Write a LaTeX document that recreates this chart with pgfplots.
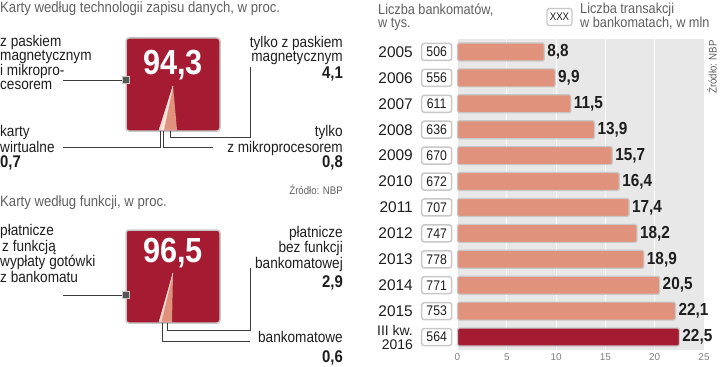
\documentclass[border=0pt]{standalone}
\usepackage{pgfplots}
\pgfplotsset{compat=1.18}
\usepackage{fontspec}
\setmainfont{Liberation Sans}[FakeStretch=0.88]
\newfontfamily\wide{Liberation Sans}
\definecolor{redc}{RGB}{165,28,50}
\definecolor{salmon}{RGB}{224,146,124}
\definecolor{pale}{RGB}{248,212,194}
\definecolor{paler}{RGB}{252,236,226}
\definecolor{panel}{RGB}{232,232,232}
\definecolor{txt}{RGB}{30,30,30}
\definecolor{ttl}{RGB}{95,95,95}
\definecolor{bord}{RGB}{200,200,200}
\definecolor{lin}{RGB}{60,60,60}
\definecolor{mk}{RGB}{85,85,85}
\newcommand{\fs}[1]{\fontsize{#1}{#1}\selectfont}
\tikzset{
  lab/.style={font=\fontsize{15.5}{14.3}\selectfont, text=txt, inner sep=0},
  num/.style={font=\bfseries\fs{17}, text=txt, inner sep=0},
  tit/.style={font=\fs{15}, text=ttl, inner sep=0},
  yr/.style={anchor=east, xshift=-44.5bp, font=\wide\fs{15.5}, text=txt, inner sep=0},
  bx/.style={draw=bord, line width=1.5bp, rounded corners=2.5bp, fill=white, minimum width=30bp, minimum height=17bp, inner sep=0, xshift=-20.8bp, font=\fs{14}, text=txt}}
\begin{document}
\begin{tikzpicture}
\path[use as bounding box] (0,0) rectangle (720bp,367bp);
\begin{axis}[at={(0,0)}, anchor=south west, width=720bp, height=367bp, scale only axis,
  xmin=0, xmax=720, ymin=0, ymax=367, y dir=reverse, hide axis, clip=false]
% square 1
\addplot[fill=redc, draw=bord, line width=1.5bp, rounded corners=3bp] coordinates {(126,38)(220,38)(220,131)(126,131)} -- cycle;
\addplot[fill=pale, draw=white, line width=0.3bp] coordinates {(173,86)(159,130)(161.2,130)};
\addplot[fill=paler, draw=white, line width=0.3bp] coordinates {(173,86)(161.2,130)(163.8,130)};
\addplot[fill=salmon, draw=white, line width=0.3bp] coordinates {(173,86)(163.8,130)(177,130)};
% square 2
\addplot[fill=redc, draw=bord, line width=1.5bp, rounded corners=3bp] coordinates {(126,230)(220,230)(220,323)(126,323)} -- cycle;
\addplot[fill=pale, draw=white, line width=0.3bp] coordinates {(173,273)(159,322)(161.2,322)};
\addplot[fill=salmon, draw=white, line width=0.3bp] coordinates {(173,273)(161.2,322)(172,322)};
% leader lines
\addplot[lin, line width=0.8bp] coordinates {(160,131)(160,147)(63,147)};
\addplot[lin, line width=0.8bp] coordinates {(163,131)(163,147)(213,147)};
\addplot[lin, line width=0.8bp] coordinates {(170,131)(170,137)(250,137)(250,67)};
\addplot[lin, line width=0.8bp] coordinates {(63,80)(124,80)};
\addplot[lin, line width=0.8bp] coordinates {(162,323)(162,341)(250,341)};
\addplot[lin, line width=0.8bp] coordinates {(167,323)(167,330)(250,330)(250,268)};
\addplot[lin, line width=0.8bp] coordinates {(63,295)(124,295)};
\addplot[only marks, mark=square*, mark size=3.5bp, mark options={fill=mk, draw=bord, line width=0.8bp}] coordinates {(126,80)(126,295)};
% texts left
\node[tit, anchor=base west] at (axis cs:0,13) {Karty według technologii zapisu danych, w proc.};
\node[lab, anchor=base west, align=left] at (axis cs:0,90) {z paskiem\\magnetycznym\\i mikropro-\\cesorem};
\node[anchor=base, font=\bfseries\fs{35}, text=white, inner sep=0] at (axis cs:173,75) {94,3};
\node[lab, anchor=base west, align=left] at (axis cs:0,152) {karty\\wirtualne};
\node[num, anchor=base west] at (axis cs:0,167) {0,7};
\node[lab, anchor=base east, align=right] at (axis cs:343,61.5) {tylko z paskiem\\magnetycznym};
\node[num, anchor=base east] at (axis cs:343,79) {4,1};
\node[lab, anchor=base east, align=right] at (axis cs:343,152) {tylko\\z mikroprocesorem};
\node[num, anchor=base east] at (axis cs:343,167) {0,8};
\node[font=\fs{11}, text=ttl, inner sep=0, anchor=base east] at (axis cs:343,194) {Źródło: NBP};
\node[tit, anchor=base west] at (axis cs:0,206) {Karty według funkcji, w proc.};
\node[anchor=base, font=\bfseries\fs{35}, text=white, inner sep=0] at (axis cs:173,262) {96,5};
\node[lab, anchor=base west, align=left] at (axis cs:0,282) {płatnicze\\\hspace*{2bp}z funkcją\\wypłaty gotówki\\z bankomatu};
\node[lab, anchor=base east, align=right] at (axis cs:343,268) {płatnicze\\bez funkcji\\bankomatowej};
\node[num, anchor=base east] at (axis cs:343,287) {2,9};
\node[lab, anchor=base east] at (axis cs:343,342) {bankomatowe};
\node[num, anchor=base east] at (axis cs:343,362) {0,6};
% right header
\node[font=\fontsize{14.5}{13.5}\selectfont, text=ttl, inner sep=0, anchor=base west, align=left] at (axis cs:378,28) {Liczba bankomatów,\\w tys.};
\node[draw=bord, line width=1.3bp, rounded corners=2.5bp, minimum width=25bp, minimum height=17bp, inner sep=0, font=\fs{11}, text=txt] at (axis cs:559.5,17) {XXX};
\node[font=\fontsize{14.5}{13.5}\selectfont, text=ttl, inner sep=0, anchor=base west, align=left] at (axis cs:580,28) {Liczba transakcji\\w bankomatach, w mln};
\node[font=\fs{11}, text=ttl, inner sep=0, rotate=90] at (axis cs:712,67) {Źródło: NBP};
\end{axis}

\begin{axis}[at={(457.5bp,328bp)}, anchor=north west, width=246.5bp, height=311bp, scale only axis,
  xbar, bar shift=0pt, bar width=18bp,
  xmin=0, xmax=25, ymin=-0.5, ymax=11.5, y dir=reverse,
  axis background/.style={fill=panel}, axis line style={draw=none},
  xmajorgrids, grid style={white, line width=1bp},
  xtick={0,5,...,25}, ytick=\empty, major tick length=0,
  xticklabel style={font=\wide\fs{10}, text=gray},
  /pgf/number format/assume math mode=true,
  nodes near coords,
  nodes near coords style={font=\bfseries\fs{17.5}, text=txt, anchor=west, inner sep=2.5bp,
    /pgf/number format/.cd, use comma, fixed, fixed zerofill, precision=1},
  clip=false]
\addplot[fill=salmon, draw=bord, line width=1.2bp, rounded corners=1.5bp] coordinates {(8.8,0)(9.9,1)(11.5,2)(13.9,3)(15.7,4)(16.4,5)(17.4,6)(18.2,7)(18.9,8)(20.5,9)(22.1,10)};
\addplot[fill=redc, draw=bord, line width=1.2bp, rounded corners=1.5bp] coordinates {(22.5,11)};
\node[yr] at (axis cs:0,0) {2005};
\node[yr] at (axis cs:0,1) {2006};
\node[yr] at (axis cs:0,2) {2007};
\node[yr] at (axis cs:0,3) {2008};
\node[yr] at (axis cs:0,4) {2009};
\node[yr] at (axis cs:0,5) {2010};
\node[yr] at (axis cs:0,6) {2011};
\node[yr] at (axis cs:0,7) {2012};
\node[yr] at (axis cs:0,8) {2013};
\node[yr] at (axis cs:0,9) {2014};
\node[yr] at (axis cs:0,10) {2015};
\node[yr, align=right, font=\wide\fontsize{14}{14}\selectfont] at (axis cs:0,11) {III kw.\\2016};
\node[bx] at (axis cs:0,0) {506};
\node[bx] at (axis cs:0,1) {556};
\node[bx] at (axis cs:0,2) {611};
\node[bx] at (axis cs:0,3) {636};
\node[bx] at (axis cs:0,4) {670};
\node[bx] at (axis cs:0,5) {672};
\node[bx] at (axis cs:0,6) {707};
\node[bx] at (axis cs:0,7) {747};
\node[bx] at (axis cs:0,8) {778};
\node[bx] at (axis cs:0,9) {771};
\node[bx] at (axis cs:0,10) {753};
\node[bx] at (axis cs:0,11) {564};
\end{axis}
\end{tikzpicture}
\end{document}
